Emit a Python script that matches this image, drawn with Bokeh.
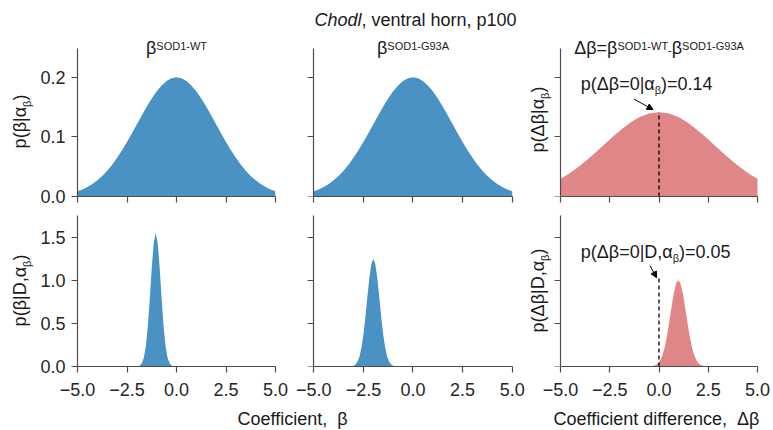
import math
from bokeh.plotting import figure
from bokeh.layouts import column, row
from bokeh.models import Range1d, FixedTicker, Label, Arrow, NormalHead, CustomLabelingPolicy
from bokeh.embed import file_html
from bokeh.resources import INLINE

# ---------------- data ----------------
TITLE_ITALIC = "Chodl"
TITLE_REST = ", ventral horn, p100"
X_LABEL_BETA = "Coefficient, \u00a0β"
X_LABEL_DELTA = "Coefficient difference, \u00a0Δβ"

X_TICKS = [-5.0, -2.5, 0.0, 2.5, 5.0]
X_TICK_LABELS = ["−5.0", "−2.5", "0.0", "2.5", "5.0"]
Y_TICKS_PRIOR = [0.0, 0.1, 0.2]
Y_TICK_LABELS_PRIOR = ["0.0", "0.1", "0.2"]
Y_TICKS_POST = [0.0, 0.5, 1.0, 1.5]
Y_TICK_LABELS_POST = ["0.0", "0.5", "1.0", "1.5"]
X_LIMITS = (-5.0, 5.0)
Y_LIMITS_PRIOR = (0.0, 0.2485)
Y_LIMITS_POST = (0.0, 1.752)

# prior densities (top row)
GRID_PRIOR = [-5.0, -4.75, -4.5, -4.25, -4.0, -3.75, -3.5, -3.25, -3.0, -2.75, -2.5,
              -2.25, -2.0, -1.75, -1.5, -1.25, -1.0, -0.75, -0.5, -0.25, 0.0,
              0.25, 0.5, 0.75, 1.0, 1.25, 1.5, 1.75, 2.0, 2.25, 2.5,
              2.75, 3.0, 3.25, 3.5, 3.75, 4.0, 4.25, 4.5, 4.75, 5.0]
PRIOR_BETA = [0.0088, 0.0119, 0.0159, 0.0209, 0.0270, 0.0344, 0.0432, 0.0533, 0.0648, 0.0775,
              0.0913, 0.1060, 0.1210, 0.1360, 0.1506, 0.1641, 0.1760, 0.1859, 0.1934, 0.1979,
              0.1995,
              0.1979, 0.1934, 0.1859, 0.1760, 0.1641, 0.1506, 0.1360, 0.1210, 0.1060, 0.0913,
              0.0775, 0.0648, 0.0533, 0.0432, 0.0344, 0.0270, 0.0209, 0.0159, 0.0119, 0.0088]
PRIOR_DELTA = [0.0296, 0.0344, 0.0398, 0.0456, 0.0519, 0.0585, 0.0656, 0.0729, 0.0803, 0.0879,
               0.0954, 0.1028, 0.1098, 0.1164, 0.1225, 0.1279, 0.1325, 0.1361, 0.1388, 0.1404,
               0.1410,
               0.1404, 0.1388, 0.1361, 0.1325, 0.1279, 0.1225, 0.1164, 0.1098, 0.1028, 0.0954,
               0.0879, 0.0803, 0.0729, 0.0656, 0.0585, 0.0519, 0.0456, 0.0398, 0.0344, 0.0296]

# posterior densities (bottom row)
POST_WT_X = [-2.05, -1.95, -1.85, -1.75, -1.65, -1.55, -1.45, -1.35, -1.25, -1.15, -1.05,
             -0.95, -0.85, -0.75, -0.65, -0.55, -0.45, -0.35, -0.25, -0.15, -0.05]
POST_WT_Y = [0.001, 0.003, 0.012, 0.038, 0.101, 0.233, 0.461, 0.784, 1.145, 1.437, 1.550,
             1.437, 1.145, 0.784, 0.461, 0.233, 0.101, 0.038, 0.012, 0.003, 0.001]
POST_G93A_X = [-3.1, -3.0, -2.9, -2.8, -2.7, -2.6, -2.5, -2.4, -2.3, -2.2, -2.1, -2.0,
               -1.9, -1.8, -1.7, -1.6, -1.5, -1.4, -1.3, -1.2, -1.1, -1.0, -0.9]
POST_G93A_Y = [0.003, 0.009, 0.024, 0.055, 0.114, 0.215, 0.369, 0.572, 0.806, 1.028, 1.190, 1.250,
               1.190, 1.028, 0.806, 0.572, 0.369, 0.215, 0.114, 0.055, 0.024, 0.009, 0.003]
POST_DELTA_X = [-0.42, -0.32, -0.22, -0.12, -0.02, 0.08, 0.18, 0.28, 0.38, 0.48, 0.58, 0.68,
                0.78, 0.88, 0.98, 1.08, 1.18, 1.28, 1.38, 1.48, 1.58, 1.68, 1.78, 1.88,
                1.98, 2.08, 2.18, 2.28, 2.38]
POST_DELTA_Y = [0.002, 0.005, 0.011, 0.023, 0.044, 0.080, 0.135, 0.216, 0.325, 0.458, 0.607, 0.755,
                0.883, 0.969, 1.000, 0.969, 0.883, 0.755, 0.607, 0.458, 0.325, 0.216, 0.135, 0.080,
                0.044, 0.023, 0.011, 0.005, 0.002]

PRIOR_AT_ZERO = 0.141        # dashed line height, top right
POST_MARK_HEIGHT = 1.02      # dashed line height, bottom right
PRIOR_AT_ZERO_TEXT = "0.14"
POST_AT_ZERO_TEXT = "0.05"

# ---------------- style ----------------
FONT = "Liberation Sans"
BLUE = "#4a92c4"
RED = "#df8787"
SPINE = "#4d4d4d"
TXT = "#1a1a1a"
TICK_TXT = "#262626"
BIG = 18
SMALL = 11
H_CORR = 0.28   # baseline correction (fraction of font size) for horizontal texts
V_CORR = 0.40   # same for rotated texts

ADV = {' ': 278, '(': 333, ')': 333, ',': 278, '-': 333, '.': 278, '=': 584, '|': 260,
       'A': 667, 'C': 722, 'D': 722, 'G': 778, 'O': 778, 'S': 667, 'T': 611, 'W': 944,
       'a': 556, 'c': 500, 'd': 556, 'e': 556, 'f': 278, 'h': 556, 'i': 222, 'l': 222,
       'n': 556, 'o': 556, 'p': 556, 'r': 333, 't': 278, 'v': 500,
       'α': 578, 'β': 575, 'Δ': 668}


def tw(s, size):
    return sum(ADV.get(c, 556) for c in s) / 1000.0 * size


def runs_width(runs):
    return sum(tw(t, s) for t, s, _, _ in runs)


def add_runs(p, x0, y0, dx, dy, runs, vertical=False, color=TXT):
    pos = 0.0
    for text, size, shift, style in runs:
        if vertical:
            lab = Label(x=x0, y=y0, x_offset=dx - shift - V_CORR * size, y_offset=dy + pos,
                        angle=math.pi / 2)
        else:
            lab = Label(x=x0, y=y0, x_offset=dx + pos, y_offset=dy + shift + H_CORR * size)
        lab.text = text
        lab.text_font = FONT
        lab.text_font_size = f"{size}px"
        lab.text_font_style = style
        lab.text_color = color
        lab.text_align = "left"
        lab.text_baseline = "alphabetic"
        p.add_layout(lab)
        pos += tw(text, size)


def hide_labels(ax):
    ax.major_label_text_font_size = "1px"
    ax.major_label_standoff = 0
    ax.major_label_policy = CustomLabelingPolicy(
        code="for (const i of indices) { indices.unset(i) }\nreturn indices")


def style_axis(ax):
    ax.axis_line_color = SPINE
    ax.axis_line_width = 1.2
    ax.major_tick_line_color = SPINE
    ax.major_tick_line_width = 1.2
    ax.minor_tick_line_color = None
    ax.major_label_text_font = FONT
    ax.major_label_text_color = TICK_TXT
    ax.major_label_text_font_size = f"{BIG}px"


def make_fig(width, height, xr, yr, borders, yticks, ylabels, ylimits, show_x, y_left):
    left, right, top, bottom = borders
    p = figure(width=width, height=height, x_range=Range1d(*xr), y_range=Range1d(*yr),
               output_backend="svg", toolbar_location=None,
               y_axis_location="left" if y_left else "right",
               min_border_left=left, min_border_right=right,
               min_border_top=top, min_border_bottom=bottom)
    p.outline_line_color = None
    p.grid.visible = False
    p.background_fill_color = "white"
    p.border_fill_color = "white"
    xa, ya = p.xaxis[0], p.yaxis[0]
    style_axis(xa)
    style_axis(ya)
    xa.ticker = FixedTicker(ticks=X_TICKS)
    xa.major_label_overrides = {t: l for t, l in zip(X_TICKS, X_TICK_LABELS)}
    xa.bounds = X_LIMITS
    xa.major_tick_out = 6
    xa.major_tick_in = 0
    xa.major_label_standoff = 10
    ya.ticker = FixedTicker(ticks=yticks)
    ya.major_label_overrides = {t: l for t, l in zip(yticks, ylabels)}
    ya.bounds = ylimits
    if y_left:
        ya.major_tick_out = 6
        ya.major_tick_in = 0
        ya.major_label_standoff = 6
    else:
        # axis kept at x = -5 while the frame extends to the left of it
        ya.fixed_location = X_LIMITS[0]
        ya.major_tick_out = 0
        ya.major_tick_in = 6
        hide_labels(ya)
    if not show_x:
        hide_labels(xa)
    return p


# ---------------- layout geometry (pixels) ----------------
YL_W = 36
W_A, W_B, W_C = 255, 236, 246
H1, H2, H_STRIP = 206, 199, 25
B_A = (41, 16)          # left / right borders of column 1
B_B = (0, 4)
B_C = (0, 4)
XR_A = (-5.0, 5.0)
XR_B = (-6.124, 5.570)  # frame spans the full column, axis at -5
XR_C = (-6.675, 5.609)
YR_1 = (0.0, 0.3281)
YR_2 = (0.0, 1.8561)
T1, BOT1 = 0, 8
T2, BOT2 = 0, 39

pa = make_fig(W_A, H1, XR_A, YR_1, (*B_A, T1, BOT1), Y_TICKS_PRIOR, Y_TICK_LABELS_PRIOR, Y_LIMITS_PRIOR, False, True)
pb = make_fig(W_B, H1, XR_B, YR_1, (*B_B, T1, BOT1), Y_TICKS_PRIOR, Y_TICK_LABELS_PRIOR, Y_LIMITS_PRIOR, False, False)
pc = make_fig(W_C, H1, XR_C, YR_1, (*B_C, T1, BOT1), Y_TICKS_PRIOR, Y_TICK_LABELS_PRIOR, Y_LIMITS_PRIOR, False, False)
pd = make_fig(W_A, H2, XR_A, YR_2, (*B_A, T2, BOT2), Y_TICKS_POST, Y_TICK_LABELS_POST, Y_LIMITS_POST, True, True)
pe = make_fig(W_B, H2, XR_B, YR_2, (*B_B, T2, BOT2), Y_TICKS_POST, Y_TICK_LABELS_POST, Y_LIMITS_POST, True, False)
pf = make_fig(W_C, H2, XR_C, YR_2, (*B_C, T2, BOT2), Y_TICKS_POST, Y_TICK_LABELS_POST, Y_LIMITS_POST, True, False)

# densities
pa.varea(x=GRID_PRIOR, y1=0, y2=PRIOR_BETA, fill_color=BLUE)
pb.varea(x=GRID_PRIOR, y1=0, y2=PRIOR_BETA, fill_color=BLUE)
pc.varea(x=GRID_PRIOR, y1=0, y2=PRIOR_DELTA, fill_color=RED)
pd.varea(x=POST_WT_X, y1=0, y2=POST_WT_Y, fill_color=BLUE)
pe.varea(x=POST_G93A_X, y1=0, y2=POST_G93A_Y, fill_color=BLUE)
pf.varea(x=POST_DELTA_X, y1=0, y2=POST_DELTA_Y, fill_color=RED)

# dashed markers at delta = 0
pc.line(x=[0, 0], y=[0, PRIOR_AT_ZERO], line_dash="4 3", line_color="black", line_width=1.3)
pf.line(x=[0, 0], y=[0, POST_MARK_HEIGHT], line_dash="4 3", line_color="black", line_width=1.3)

# arrows
pc.add_layout(Arrow(end=NormalHead(size=6, fill_color="black", line_color="black", line_width=1),
                    x_start=-1.27, y_start=0.163, x_end=-0.3, y_end=0.1455,
                    line_color="black", line_width=1))
pf.add_layout(Arrow(end=NormalHead(size=6, fill_color="black", line_color="black", line_width=1),
                    x_start=-0.46, y_start=1.17, x_end=-0.12, y_end=1.03,
                    line_color="black", line_width=1))

# annotation texts
add_runs(pc, -3.97, 0.180, 0, 0, [("p(Δβ=0|α", BIG, 0, "normal"), ("β", SMALL, -4, "normal"),
                                   (")=" + PRIOR_AT_ZERO_TEXT, BIG, 0, "normal")])
add_runs(pf, -3.97, 1.265, 0, 0, [("p(Δβ=0|D,α", BIG, 0, "normal"), ("β", SMALL, -4, "normal"),
                                   (")=" + POST_AT_ZERO_TEXT, BIG, 0, "normal")])

# page positions of the frames (left edge, bottom edge)
FA_L = YL_W + B_A[0]              # 77
FB_L = YL_W + W_A                 # 291
FC_L = YL_W + W_A + W_B           # 527
F1_BOT = H1 - BOT1                # 198
F2_BOT = H1 + H2 - BOT2           # 366
COL_CENTERS = (176.0, 412.5, 658.5)

# main title over the middle column
title_runs = [(TITLE_ITALIC, BIG, 0, "italic"), (TITLE_REST, BIG, 0, "normal")]
add_runs(pb, XR_B[0], 0, 415 - runs_width(title_runs) / 2 - FB_L, F1_BOT - 26.5, title_runs)

# column titles
SUP = 4.5
col_titles = [
    (pa, XR_A[0], FA_L, COL_CENTERS[0], [("β", BIG, 0, "normal"), ("SOD1-WT", SMALL, SUP, "normal")]),
    (pb, XR_B[0], FB_L, COL_CENTERS[1], [("β", BIG, 0, "normal"), ("SOD1-G93A", SMALL, SUP, "normal")]),
    (pc, XR_C[0], FC_L, COL_CENTERS[2], [("Δβ=β", BIG, 0, "normal"), ("SOD1-WT", SMALL, SUP, "normal"),
                                         ("-", SMALL, 0, "normal"), ("β", BIG, 0, "normal"),
                                         ("SOD1-G93A", SMALL, SUP, "normal")]),
]
for p, x0, fl, cx, runs in col_titles:
    add_runs(p, x0, 0, cx - runs_width(runs) / 2 - fl, F1_BOT - 55, runs)

ROW1_MID, ROW2_MID = 121.0, 290.0

# y labels of the third column (inside the extended frames)
for p, fb, mid, runs in [
        (pc, F1_BOT, ROW1_MID, [("p(Δβ|α", BIG, 0, "normal"), ("β", SMALL, -4, "normal"), (")", BIG, 0, "normal")]),
        (pf, F2_BOT, ROW2_MID, [("p(Δβ|D,α", BIG, 0, "normal"), ("β", SMALL, -4, "normal"), (")", BIG, 0, "normal")])]:
    L = runs_width(runs)
    add_runs(p, XR_C[0], 0, 545 - FC_L, fb - (mid + L / 2), runs, vertical=True)

# narrow text column on the left for the first column's y labels
TOTAL_H = H1 + H2 + H_STRIP
ylab = figure(width=YL_W, height=TOTAL_H, x_range=Range1d(0, YL_W),
              y_range=Range1d(0, TOTAL_H), output_backend="svg", toolbar_location=None,
              x_axis_location=None, y_axis_location=None, min_border=0)
ylab.outline_line_color = None
ylab.grid.visible = False
ylab.border_fill_color = "white"
ylab.background_fill_color = "white"
for mid, runs in [(ROW1_MID, [("p(β|α", BIG, 0, "normal"), ("β", SMALL, -4, "normal"), (")", BIG, 0, "normal")]),
                  (ROW2_MID, [("p(β|D,α", BIG, 0, "normal"), ("β", SMALL, -4, "normal"), (")", BIG, 0, "normal")])]:
    L = runs_width(runs)
    add_runs(ylab, 0, 0, 27, TOTAL_H - (mid + L / 2), runs, vertical=True)

# bottom strip with the x axis labels
STRIP_W = W_A + W_B + W_C
strip = figure(width=STRIP_W, height=H_STRIP, x_range=Range1d(0, STRIP_W),
               y_range=Range1d(0, H_STRIP), output_backend="svg", toolbar_location=None,
               x_axis_location=None, y_axis_location=None, min_border=0)
strip.outline_line_color = None
strip.grid.visible = False
strip.border_fill_color = "white"
strip.background_fill_color = "white"
for txt, cx in [(X_LABEL_BETA, 292), (X_LABEL_DELTA, 656)]:
    strip.add_layout(Label(x=cx - YL_W, y=6 + H_CORR * BIG, text=txt, text_font=FONT,
                           text_font_size=f"{BIG}px", text_color=TXT, text_align="center",
                           text_baseline="alphabetic"))

layout = row(ylab, column(row(pa, pb, pc), row(pd, pe, pf), strip))
open("out.html", "w").write(file_html(layout, INLINE))
